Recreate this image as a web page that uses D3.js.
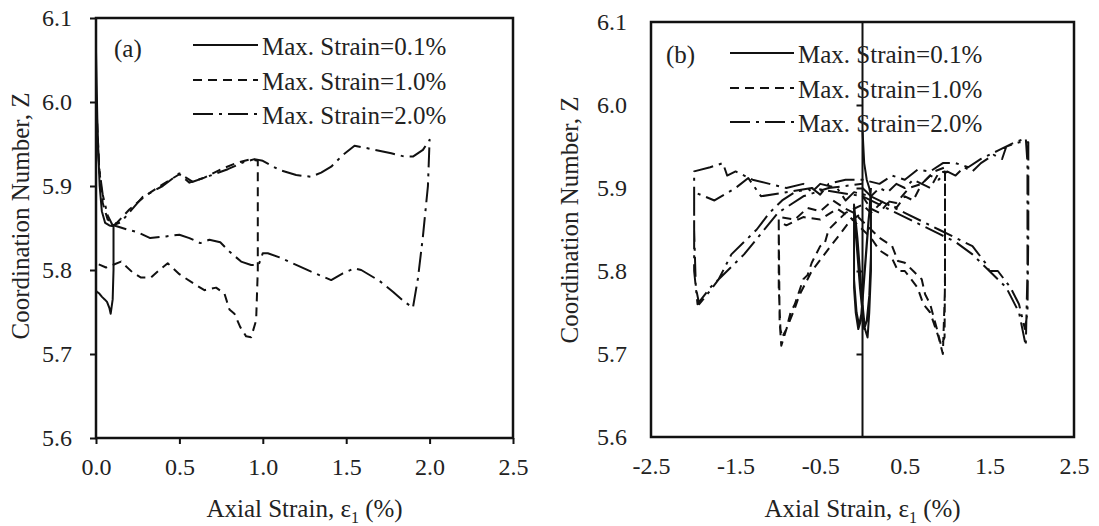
<!DOCTYPE html>
<html>
<head>
<meta charset="utf-8">
<script src="https://cdn.jsdelivr.net/npm/d3@7"></script>
<style>
  body { margin: 0; background: #fff; }
  svg { display: block; }
  text { font-family: "Liberation Serif", "Times New Roman", serif; fill: #222; }
</style>
</head>
<body>
<div id="chart"></div>
<script>
// ---- data: [axial strain %, coordination number Z] ----
const seriesNames = ["Max. Strain=0.1%", "Max. Strain=1.0%", "Max. Strain=2.0%"];
const yTicks = [5.6, 5.7, 5.8, 5.9, 6.0, 6.1];
const aXTicks = [0, 0.5, 1.0, 1.5, 2.0, 2.5];
const bXTicks = [-2.5, -1.5, -0.5, 0.5, 1.5, 2.5];

// (a) monotonic loading / unloading
const aStrain01 = [[0,6.06],[0.004,6.02],[0.008,5.98],[0.014,5.94],[0.022,5.90],[0.035,5.87],[0.055,5.856],
  [0.08,5.853],[0.105,5.852],[0.105,5.80],[0.1,5.765],[0.088,5.748],[0.08,5.755],[0.066,5.762],[0.052,5.765],
  [0.036,5.768],[0.02,5.772],[0.006,5.774],[0,5.775]];
const aStrain10 = [[0,6.01],[0.01,5.96],[0.02,5.92],[0.04,5.88],[0.07,5.86],[0.12,5.855],[0.2,5.872],[0.3,5.889],
  [0.4,5.902],[0.5,5.914],[0.56,5.904],[0.65,5.91],[0.75,5.92],[0.85,5.928],[0.93,5.932],[0.97,5.93],[0.97,5.80],
  [0.96,5.74],[0.93,5.72],[0.9,5.721],[0.865,5.732],[0.83,5.748],[0.8,5.753],[0.77,5.772],[0.72,5.779],[0.65,5.776],
  [0.6,5.782],[0.5,5.795],[0.43,5.808],[0.38,5.8],[0.33,5.791],[0.27,5.791],[0.22,5.797],[0.15,5.81],[0.1,5.806],
  [0.06,5.803],[0,5.808]];
const aStrain20 = [[0,5.99],[0.01,5.95],[0.02,5.92],[0.04,5.89],[0.07,5.865],[0.1,5.853],[0.15,5.857],[0.28,5.887],
  [0.4,5.9],[0.5,5.915],[0.58,5.905],[0.68,5.912],[0.79,5.92],[0.88,5.928],[0.95,5.932],[1.0,5.93],[1.1,5.919],
  [1.2,5.913],[1.29,5.911],[1.35,5.916],[1.41,5.923],[1.48,5.937],[1.55,5.948],[1.65,5.944],[1.77,5.939],
  [1.85,5.935],[1.9,5.935],[1.96,5.943],[2.0,5.955],[1.99,5.9],[1.96,5.84],[1.93,5.79],[1.9,5.755],[1.85,5.762],
  [1.78,5.774],[1.7,5.787],[1.59,5.8],[1.55,5.802],[1.48,5.796],[1.41,5.788],[1.35,5.793],[1.29,5.798],[1.2,5.806],
  [1.1,5.815],[1.03,5.82],[1.0,5.82],[0.975,5.806],[0.93,5.806],[0.87,5.81],[0.8,5.822],[0.745,5.833],[0.68,5.836],
  [0.625,5.832],[0.56,5.838],[0.5,5.842],[0.42,5.84],[0.325,5.838],[0.25,5.845],[0.19,5.848],[0.11,5.853]];

// (b) cyclic loading
const bStrain01 = [[0,5.97],[0.02,5.93],[0.05,5.91],[0.08,5.90],[0.1,5.89],[0.1,5.82],[0.08,5.77],[0.05,5.74],
  [0.02,5.73],[0,5.75],[-0.03,5.78],[-0.06,5.82],[-0.1,5.87],[-0.1,5.78],[-0.08,5.75],[-0.05,5.73],[-0.02,5.74],
  [0.01,5.78],[0.04,5.82],[0.07,5.86],[0.1,5.89],[0.1,5.80],[0.08,5.75],[0.06,5.72],[0.03,5.73],[0,5.76],
  [-0.03,5.80],[-0.06,5.84],[-0.1,5.88],[-0.1,5.79],[-0.07,5.75],[-0.04,5.735],[-0.01,5.75],[0.02,5.79],
  [0.05,5.83],[0.08,5.87],[0.1,5.9]];
const bStrain10 = [[0,5.89],[0.1,5.875],[0.2,5.87],[0.3,5.882],[0.4,5.876],[0.5,5.89],[0.6,5.885],[0.7,5.905],
  [0.8,5.9],[0.9,5.918],[0.975,5.92],[0.975,5.80],[0.97,5.72],[0.93,5.71],[0.88,5.73],[0.84,5.745],[0.8,5.76],
  [0.74,5.772],[0.7,5.79],[0.6,5.80],[0.5,5.81],[0.42,5.812],[0.35,5.83],[0.2,5.84],[0.1,5.85],[0,5.86],
  [-0.1,5.87],[-0.2,5.875],[-0.35,5.885],[-0.5,5.872],[-0.65,5.876],[-0.8,5.862],[-0.99,5.865],[-0.99,5.78],
  [-0.97,5.73],[-0.95,5.72],[-0.9,5.73],[-0.85,5.75],[-0.8,5.76],[-0.7,5.79],[-0.65,5.795],[-0.6,5.81],
  [-0.5,5.83],[-0.45,5.832],[-0.4,5.85],[-0.3,5.86],[-0.2,5.87],[-0.1,5.875],[0,5.88],[0.1,5.87],[0.25,5.885],
  [0.4,5.882],[0.55,5.9],[0.7,5.905],[0.85,5.92],[0.975,5.925],[0.975,5.78],[0.95,5.70],[0.9,5.72],[0.8,5.75],
  [0.72,5.76],[0.65,5.78],[0.5,5.80],[0.42,5.80],[0.35,5.815],[0.2,5.825],[0.1,5.84],[0,5.85],[-0.15,5.865],
  [-0.3,5.875],[-0.5,5.862],[-0.7,5.865],[-0.9,5.855],[-0.99,5.86],[-0.98,5.74],[-0.96,5.71],[-0.9,5.73],
  [-0.8,5.755],[-0.75,5.77],[-0.6,5.80],[-0.45,5.82],[-0.3,5.84],[-0.15,5.86],[0,5.87]];
const bStrain20 = [[0,5.9],[0.1,5.89],[0.2,5.9],[0.3,5.895],[0.4,5.905],[0.5,5.9],[0.6,5.91],[0.7,5.905],
  [0.8,5.915],[0.9,5.91],[1.0,5.92],[1.1,5.915],[1.2,5.925],[1.3,5.92],[1.4,5.93],[1.55,5.94],[1.65,5.935],
  [1.7,5.95],[1.85,5.955],[1.96,5.955],[1.96,5.85],[1.95,5.75],[1.92,5.73],[1.85,5.76],[1.75,5.78],[1.6,5.8],
  [1.5,5.8],[1.45,5.81],[1.3,5.83],[1.1,5.84],[0.9,5.85],[0.7,5.86],[0.5,5.87],[0.3,5.88],[0.1,5.89],
  [-0.1,5.895],[-0.2,5.885],[-0.3,5.9],[-0.5,5.905],[-0.6,5.895],[-0.7,5.905],[-0.9,5.9],[-1.1,5.905],
  [-1.3,5.91],[-1.5,5.92],[-1.6,5.915],[-1.65,5.93],[-1.8,5.925],[-1.99,5.92],[-1.99,5.85],[-1.97,5.78],
  [-1.93,5.76],[-1.85,5.77],[-1.7,5.79],[-1.55,5.82],[-1.4,5.835],[-1.25,5.85],[-1.1,5.87],[-0.95,5.885],
  [-0.8,5.895],[-0.6,5.9],[-0.5,5.892],[-0.4,5.905],[-0.2,5.91],[0,5.91],[0.2,5.905],[0.35,5.915],[0.5,5.91],
  [0.65,5.922],[0.8,5.92],[0.95,5.93],[1.1,5.93],[1.25,5.925],[1.4,5.935],[1.6,5.945],[1.8,5.955],[1.93,5.96],
  [1.95,5.93],[1.95,5.8],[1.93,5.71],[1.85,5.75],[1.7,5.78],[1.5,5.80],[1.3,5.82],[1.1,5.835],[0.9,5.845],
  [0.6,5.86],[0.3,5.875],[0,5.89],[-0.3,5.895],[-0.6,5.9],[-0.9,5.895],[-1.2,5.89],[-1.35,5.912],[-1.5,5.9],
  [-1.75,5.885],[-1.99,5.895],[-1.99,5.8],[-1.95,5.76],[-1.8,5.78],[-1.6,5.8],[-1.4,5.82],[-1.2,5.845],
  [-1.0,5.87],[-0.7,5.89],[-0.4,5.9],[0,5.905]];

const dashes = [null, "9,6", "20,6,3,6"];

const svg = d3.select("#chart").append("svg")
  .attr("width", 1099)
  .attr("height", 526);

// tick labels use a plain hyphen for negatives, like the original
const fmt = d => d3.format(".1f")(d).replace("\u2212", "-");

function drawPanel(p) {
  const x = d3.scaleLinear().domain(p.xDomain).range(p.xRange);
  const y = d3.scaleLinear().domain([5.6, 6.1]).range(p.yRange);
  const g = svg.append("g");

  // y tick labels (and outward ticks for panel a)
  const yAxis = g.append("g")
    .attr("transform", `translate(${p.xRange[0]},0)`)
    .call(d3.axisLeft(y).tickValues(yTicks).tickFormat(fmt)
      .tickSize(p.outerTicks ? 6 : 0).tickPadding(p.outerTicks ? 18 : 24));
  yAxis.select(".domain").remove();

  const xAxis = g.append("g")
    .attr("transform", `translate(0,${p.yRange[0]})`)
    .call(d3.axisBottom(x).tickValues(p.xTicks).tickFormat(fmt)
      .tickSize(p.outerTicks ? 6 : 0).tickPadding(p.outerTicks ? 14 : 20));
  xAxis.select(".domain").remove();

  g.selectAll(".tick line").attr("stroke", "#111").attr("stroke-width", 2);
  g.selectAll(".tick text").style("font-size", "24px").attr("fill", "#222");

  // zero axis inside panel b
  if (p.zeroAxis) {
    g.append("line")
      .attr("x1", x(0)).attr("x2", x(0))
      .attr("y1", p.yRange[1]).attr("y2", p.yRange[0])
      .attr("stroke", "#111").attr("stroke-width", 2);
    const za = g.append("g")
      .attr("transform", `translate(${x(0)},0)`)
      .call(d3.axisLeft(y).tickValues([5.7, 5.8, 5.9, 6.0]).tickFormat("").tickSize(6));
    za.select(".domain").remove();
    za.selectAll("line").attr("stroke", "#111").attr("stroke-width", 2);
  }

  const line = d3.line().x(d => x(d[0])).y(d => y(d[1]));
  p.series.forEach((s, i) => {
    g.append("path")
      .datum(s)
      .attr("d", line)
      .attr("fill", "none")
      .attr("stroke", "#111")
      .attr("stroke-width", 2)
      .attr("stroke-linejoin", "round")
      .attr("stroke-dasharray", dashes[i]);
  });

  // frame
  g.append("rect")
    .attr("x", p.xRange[0]).attr("y", p.yRange[1])
    .attr("width", p.xRange[1] - p.xRange[0])
    .attr("height", p.yRange[0] - p.yRange[1])
    .attr("fill", "none").attr("stroke", "#111").attr("stroke-width", 2.5);

  // panel tag and legend
  g.append("text").attr("x", p.tag.x).attr("y", p.tag.y)
    .style("font-size", "25px").text(p.tag.label);
  seriesNames.forEach((name, i) => {
    const ly = p.legend.y[i];
    g.append("line")
      .attr("x1", p.legend.x1).attr("x2", p.legend.x2)
      .attr("y1", ly).attr("y2", ly)
      .attr("stroke", "#111").attr("stroke-width", 2)
      .attr("stroke-dasharray", dashes[i]);
    g.append("text")
      .attr("x", p.legend.x2 + 4).attr("y", ly + 10)
      .style("font-size", "25px")
      .text(name);
  });

  // axis titles
  const xt = g.append("text")
    .attr("x", (p.xRange[0] + p.xRange[1]) / 2).attr("y", 517)
    .attr("text-anchor", "middle")
    .style("font-size", "25px");
  xt.append("tspan").text("Axial Strain, ε");
  xt.append("tspan").attr("dy", 6).style("font-size", "16px").text("1");
  xt.append("tspan").attr("dy", -6).text(" (%)");

  g.append("text")
    .attr("transform", `translate(${p.yTitleX},${p.yTitleY}) rotate(-90)`)
    .attr("text-anchor", "middle")
    .style("font-size", "25px")
    .text("Coordination Number, Z");
}

drawPanel({
  xDomain: [0, 2.5], xRange: [96, 513], yRange: [438, 18],
  xTicks: aXTicks, outerTicks: true, zeroAxis: false,
  series: [aStrain01, aStrain10, aStrain20],
  tag: { label: "(a)", x: 114, y: 57 },
  legend: { x1: 193, x2: 258, y: [45, 80, 114] },
  yTitleX: 29, yTitleY: 216
});

drawPanel({
  xDomain: [-2.5, 2.5], xRange: [651, 1074], yRange: [437, 22],
  xTicks: bXTicks, outerTicks: false, zeroAxis: true,
  series: [bStrain01, bStrain10, bStrain20],
  tag: { label: "(b)", x: 666, y: 63 },
  legend: { x1: 730, x2: 794, y: [53, 88, 122] },
  yTitleX: 578, yTitleY: 220
});
</script>
</body>
</html>
